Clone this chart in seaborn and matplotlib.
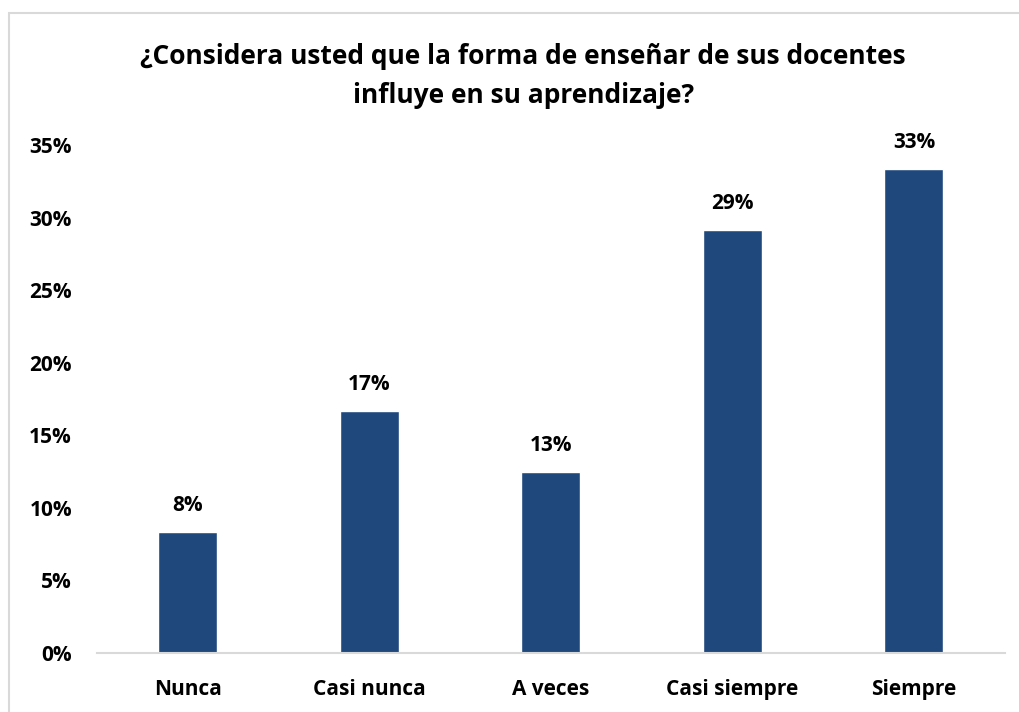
import matplotlib
matplotlib.use("Agg")
import matplotlib.pyplot as plt
import seaborn as sns
import pandas as pd
from matplotlib.patches import Rectangle
from matplotlib.ticker import PercentFormatter

categorias = ["Nunca", "Casi nunca", "A veces", "Casi siempre", "Siempre"]
porcentajes = [8.33, 16.67, 12.5, 29.17, 33.33]
etiquetas = ["8%", "17%", "13%", "29%", "33%"]
titulo = "¿Considera usted que la forma de enseñar de sus docentes\ninfluye en su aprendizaje?"

df = pd.DataFrame({"cat": categorias, "pct": [p / 100 for p in porcentajes]})

sns.set_style("white")
plt.rcParams["font.family"] = ["Open Sans", "DejaVu Sans"]
plt.rcParams["font.weight"] = "bold"
plt.rcParams["text.color"] = "black"
plt.rcParams["xtick.color"] = "black"
plt.rcParams["ytick.color"] = "black"

fig = plt.figure(figsize=(10.2, 7.12), dpi=100)
ax = fig.add_axes([0.0951, 0.0829, 0.8899, 0.7134])

sns.barplot(data=df, x="cat", y="pct", color="#1F497D", width=0.325,
            saturation=1, ax=ax)

ax.set_ylim(0, 0.35)
ax.set_xlim(-0.5, 4.5)
ax.yaxis.set_major_formatter(PercentFormatter(1.0, decimals=0))
ax.set_yticks([i * 0.05 for i in range(8)])
ax.set_xlabel("")
ax.set_ylabel("")

for i, (v, t) in enumerate(zip(df["pct"], etiquetas)):
    ax.text(i, v + 0.011, t, ha="center", va="bottom", fontsize=15,
            fontweight="bold", color="black")

for s in ["top", "right", "left"]:
    ax.spines[s].set_visible(False)
ax.spines["bottom"].set_color("#d9d9d9")
ax.spines["bottom"].set_linewidth(1.5)
ax.tick_params(axis="both", length=0, labelsize=15)
ax.tick_params(axis="y", pad=18)
ax.tick_params(axis="x", pad=19)
for lab in ax.get_xticklabels() + ax.get_yticklabels():
    lab.set_fontweight("bold")

fig.text(0.513, 0.893, titulo, ha="center", va="center", fontsize=19,
         fontweight="bold", linespacing=1.55, color="black")

fig.patches.append(Rectangle((0.009, -0.01), 1.1, 0.992, transform=fig.transFigure,
                             fill=False, edgecolor="#d9d9d9", linewidth=1.5))

fig.savefig("out.png", dpi=100)
